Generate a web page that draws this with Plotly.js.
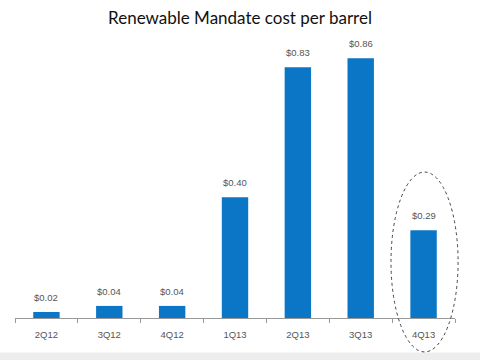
<!DOCTYPE html>
<html><head><meta charset="utf-8">
<script src="https://cdn.plot.ly/plotly-3.0.1.min.js"></script>
<style>html,body{margin:0;padding:0;background:#fff;}#chart{width:480px;height:360px;}</style>
</head><body><div id="chart"></div>
<script>
var categories = ["2Q12","3Q12","4Q12","1Q13","2Q13","3Q13","4Q13"];
var costPerBarrel = [0.02,0.04,0.04,0.40,0.83,0.86,0.29];
var valueLabels = ["$0.02","$0.04","$0.04","$0.40","$0.83","$0.86","$0.29"];

var labelFont = {family: "Liberation Sans Narrow, Liberation Sans, sans-serif", size: 9.5, color: "#555"};
var trace = {
  type: "bar", x: categories, y: costPerBarrel,
  marker: {color: "#0b76c6"}, hoverinfo: "none"
};
var annotations = categories.map(function (c, i) {
  return {x: c, y: costPerBarrel[i], xref: "x", yref: "y", text: valueLabels[i],
    showarrow: false, yanchor: "bottom", yshift: 7, font: labelFont};
});
var layout = {
  width: 480, height: 360,
  margin: {l: 15, r: 25, t: 40, b: 42},
  paper_bgcolor: "#fff", plot_bgcolor: "#fff",
  bargap: 0.58, showlegend: false,
  title: {text: "Renewable Mandate cost per barrel", x: 0.5, xanchor: "center", y: 0.95, yanchor: "middle",
    font: {family: "Lato, Open Sans, sans-serif", size: 17, color: "#111"}},
  xaxis: {showline: true, linecolor: "#999", linewidth: 1, ticks: "outside", tickson: "boundaries",
    ticklen: 4, tickcolor: "#999", ticklabelstandoff: 8, tickfont: labelFont,
    showgrid: false, zeroline: false, fixedrange: true},
  yaxis: {range: [0, 0.92], visible: false, showgrid: false, zeroline: false, fixedrange: true},
  annotations: annotations,
  shapes: [
    {type: "rect", xref: "paper", yref: "paper", x0: -0.05, x1: 1.07, y0: -0.152, y1: -0.124,
     fillcolor: "#ededed", line: {width: 0}, layer: "below"},
    {type: "circle", xref: "paper", yref: "paper", x0: 0.8545, x1: 1.007, y0: -0.122, y1: 0.525,
     line: {color: "#444", width: 1, dash: "dot"}}
  ]
};
Plotly.newPlot("chart", [trace], layout, {displayModeBar: false, staticPlot: true});
</script></body></html>
